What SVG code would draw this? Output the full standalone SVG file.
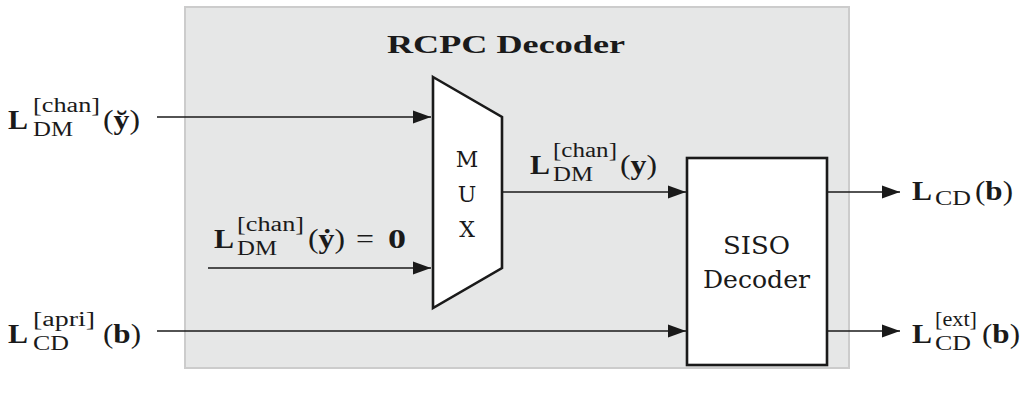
<svg xmlns="http://www.w3.org/2000/svg" width="1030" height="394" viewBox="0 0 1030 394">
<defs>
<style>
text { font-family: "Liberation Serif", "DejaVu Serif", serif; fill:#1a1a1a; }
.m { font-size:28px; }
.bf { font-weight:bold; }
.s { font-size:20px; }
.lbl { font-family: "DejaVu Serif", serif; font-size:22px; }
.blkt { font-family: "DejaVu Serif", serif; font-size:24px; }
.title { font-size:25px; font-weight:bold; }
.ln { stroke:#1a1a1a; stroke-width:1.6; fill:none; }
.blk { fill:#ffffff; stroke:#1a1a1a; stroke-width:2.6; }
</style>
<marker id="ah" markerUnits="userSpaceOnUse" markerWidth="20" markerHeight="14" refX="18" refY="7" orient="auto"><path d="M0,0.5 L18,7 L0,13.5 z" fill="#1a1a1a"/></marker>
</defs>
<rect x="0" y="0" width="1030" height="394" fill="#ffffff"/>
<g id="rcpc-decoder">
<rect x="185" y="7" width="664" height="361" fill="#e6e7e7" stroke="#cccccc" stroke-width="2"/>
<text class="title" x="387" y="53" textLength="238" lengthAdjust="spacingAndGlyphs">RCPC Decoder</text>
</g>
<g id="connectors">
<line class="ln" x1="157" y1="117" x2="431" y2="117" marker-end="url(#ah)"/>
<line class="ln" x1="208" y1="268" x2="431" y2="268" marker-end="url(#ah)"/>
<line class="ln" x1="502" y1="192" x2="686" y2="192" marker-end="url(#ah)"/>
<line class="ln" x1="157" y1="331" x2="686" y2="331" marker-end="url(#ah)"/>
<line class="ln" x1="827" y1="192" x2="900" y2="192" marker-end="url(#ah)"/>
<line class="ln" x1="827" y1="331" x2="900" y2="331" marker-end="url(#ah)"/>
</g>
<g id="mux">
<polygon class="blk" points="433,77 502,117 502,268 433,308"/>
<text class="lbl" x="467" y="167" text-anchor="middle">M</text>
<text class="lbl" x="467" y="202" text-anchor="middle">U</text>
<text class="lbl" x="467" y="237" text-anchor="middle">X</text>
</g>
<g id="siso-decoder">
<rect class="blk" x="687" y="158" width="140" height="207"/>
<text class="blkt" x="723" y="254" textLength="67" lengthAdjust="spacingAndGlyphs">SISO</text>
<text class="blkt" x="703" y="288" textLength="107" lengthAdjust="spacingAndGlyphs">Decoder</text>
</g>
<g id="in-chan-breve">
<text class="m bf" x="8" y="129" textLength="20" lengthAdjust="spacingAndGlyphs">L</text>
<text class="s" x="33" y="112" textLength="67" lengthAdjust="spacingAndGlyphs">[chan]</text>
<text class="s" x="33" y="136" textLength="40" lengthAdjust="spacingAndGlyphs">DM</text>
<text class="m" x="103" y="129" textLength="37" lengthAdjust="spacingAndGlyphs">(<tspan class="bf">y̆</tspan>)</text>
</g>
<g id="in-chan-dot">
<text class="m bf" x="214" y="248" textLength="20" lengthAdjust="spacingAndGlyphs">L</text>
<text class="s" x="237" y="231" textLength="67" lengthAdjust="spacingAndGlyphs">[chan]</text>
<text class="s" x="237" y="255" textLength="40" lengthAdjust="spacingAndGlyphs">DM</text>
<text class="m" x="308" y="248" textLength="37" lengthAdjust="spacingAndGlyphs">(<tspan class="bf">ẏ</tspan>)</text>
<text class="m" x="356" y="248" textLength="18" lengthAdjust="spacingAndGlyphs">=</text>
<text class="m bf" x="388" y="248" textLength="18" lengthAdjust="spacingAndGlyphs">0</text>
</g>
<g id="mux-out">
<text class="m bf" x="530" y="174" textLength="20" lengthAdjust="spacingAndGlyphs">L</text>
<text class="s" x="553" y="157" textLength="64" lengthAdjust="spacingAndGlyphs">[chan]</text>
<text class="s" x="553" y="181" textLength="40" lengthAdjust="spacingAndGlyphs">DM</text>
<text class="m" x="620" y="174" textLength="37" lengthAdjust="spacingAndGlyphs">(<tspan class="bf">y</tspan>)</text>
</g>
<g id="in-apri">
<text class="m bf" x="8" y="343" textLength="20" lengthAdjust="spacingAndGlyphs">L</text>
<text class="s" x="33" y="326" textLength="62" lengthAdjust="spacingAndGlyphs">[apri]</text>
<text class="s" x="33" y="350" textLength="36" lengthAdjust="spacingAndGlyphs">CD</text>
<text class="m" x="103" y="343" textLength="38" lengthAdjust="spacingAndGlyphs">(<tspan class="bf">b</tspan>)</text>
</g>
<g id="out-cd">
<text class="m bf" x="912" y="200" textLength="20" lengthAdjust="spacingAndGlyphs">L</text>
<text class="s" x="935" y="205" textLength="36" lengthAdjust="spacingAndGlyphs">CD</text>
<text class="m" x="975" y="200" textLength="38" lengthAdjust="spacingAndGlyphs">(<tspan class="bf">b</tspan>)</text>
</g>
<g id="out-ext">
<text class="m bf" x="912" y="343" textLength="20" lengthAdjust="spacingAndGlyphs">L</text>
<text class="s" x="935" y="326" textLength="42" lengthAdjust="spacingAndGlyphs">[ext]</text>
<text class="s" x="935" y="350" textLength="36" lengthAdjust="spacingAndGlyphs">CD</text>
<text class="m" x="982" y="343" textLength="38" lengthAdjust="spacingAndGlyphs">(<tspan class="bf">b</tspan>)</text>
</g>
</svg>
